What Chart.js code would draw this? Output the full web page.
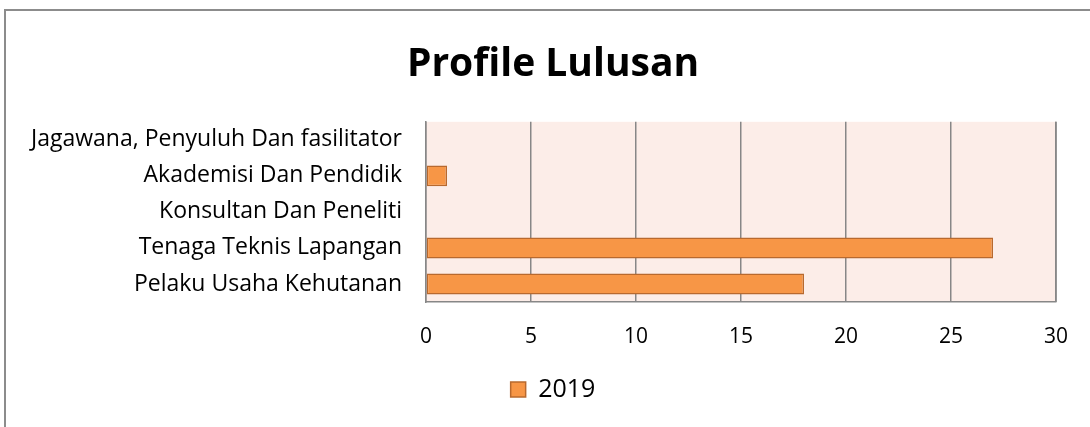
<!DOCTYPE html>
<html lang="id">
<head>
  <meta charset="UTF-8">
  <title>Profile Lulusan</title>
  <script src="https://cdn.jsdelivr.net/npm/chart.js"></script>
  <style>
    html, body { margin: 0; padding: 0; background: #fff; }
    #wrap { position: relative; width: 1090px; height: 427px; overflow: hidden; }
    #frame { position: absolute; left: 4px; top: 9px; width: 1200px; height: 600px;
             border: 2px solid #8c8c8c; box-sizing: border-box; }
    canvas { position: absolute; left: 0; top: 0; }
  </style>
</head>
<body>
<div id="wrap">
  <div id="frame"></div>
  <canvas id="chart" width="1090" height="427"></canvas>
</div>

<script>
  // Data
  const categories = [
    "Jagawana, Penyuluh Dan fasilitator",
    "Akademisi Dan Pendidik",
    "Konsultan Dan Peneliti",
    "Tenaga Teknis Lapangan",
    "Pelaku Usaha Kehutanan"
  ];
  const values2019 = [0, 1, 0, 27, 18];
  const seriesName = "2019";
  const xMax = 30;
  const xStep = 5;

  const FONT = "'Open Sans', 'Noto Sans', sans-serif";

  // Fill the plot area with the light peach background
  const plotBg = {
    id: "plotBg",
    beforeDraw(chart) {
      const { ctx, chartArea: a } = chart;
      ctx.save();
      ctx.fillStyle = "#fcede8";
      ctx.fillRect(a.left, a.top, a.right - a.left, a.bottom - a.top);
      ctx.restore();
    }
  };

  new Chart(document.getElementById("chart"), {
    type: "bar",
    data: {
      labels: categories,
      datasets: [{
        label: seriesName,
        data: values2019,
        backgroundColor: "#f79646",
        borderColor: "#b8692e",
        borderWidth: 1.5,
        borderSkipped: false,
        barPercentage: 0.58,
        categoryPercentage: 1
      }]
    },
    options: {
      indexAxis: "y",
      responsive: false,
      animation: false,
      // left padding only shifts the centred title/legend; the y labels may spill into it
      layout: { padding: { left: 48, right: 32, top: 0, bottom: 15 } },
      plugins: {
        title: {
          display: true,
          text: "Profile Lulusan",
          color: "#000",
          font: { family: FONT, size: 39, weight: "bold" },
          padding: { top: 41, bottom: 34 }
        },
        legend: {
          position: "bottom",
          labels: {
            color: "#000",
            font: { family: FONT, size: 25 },
            boxWidth: 15,
            boxHeight: 15,
            padding: 5
          }
        },
        tooltip: { enabled: false }
      },
      scales: {
        x: {
          min: 0,
          max: xMax,
          ticks: { stepSize: xStep, color: "#000", font: { family: FONT, size: 21 }, padding: 22 },
          grid: { color: "#878787", lineWidth: 1.5, drawTicks: false },
          border: { display: true, color: "#878787", width: 1.5 },
          afterFit(s) { s.height = 70; }
        },
        y: {
          ticks: { color: "#000", font: { family: FONT, size: 23 }, padding: 24, autoSkip: false },
          grid: { display: false, drawTicks: false },
          border: { display: true, color: "#878787", width: 1.5 },
          afterFit(s) {
            s.width = 378;
            s._computeLabelArea = () => undefined; // don't clip long labels
          }
        }
      }
    },
    plugins: [plotBg, {
      // right frame line of the plot area
      id: "rightEdge",
      afterDraw(chart) {
        const { ctx, chartArea: a } = chart;
        ctx.save();
        ctx.strokeStyle = "#878787";
        ctx.lineWidth = 1.5;
        ctx.beginPath();
        ctx.moveTo(a.right, a.top);
        ctx.lineTo(a.right, a.bottom);
        ctx.stroke();
        ctx.restore();
      }
    }]
  });
</script>
</body>
</html>
